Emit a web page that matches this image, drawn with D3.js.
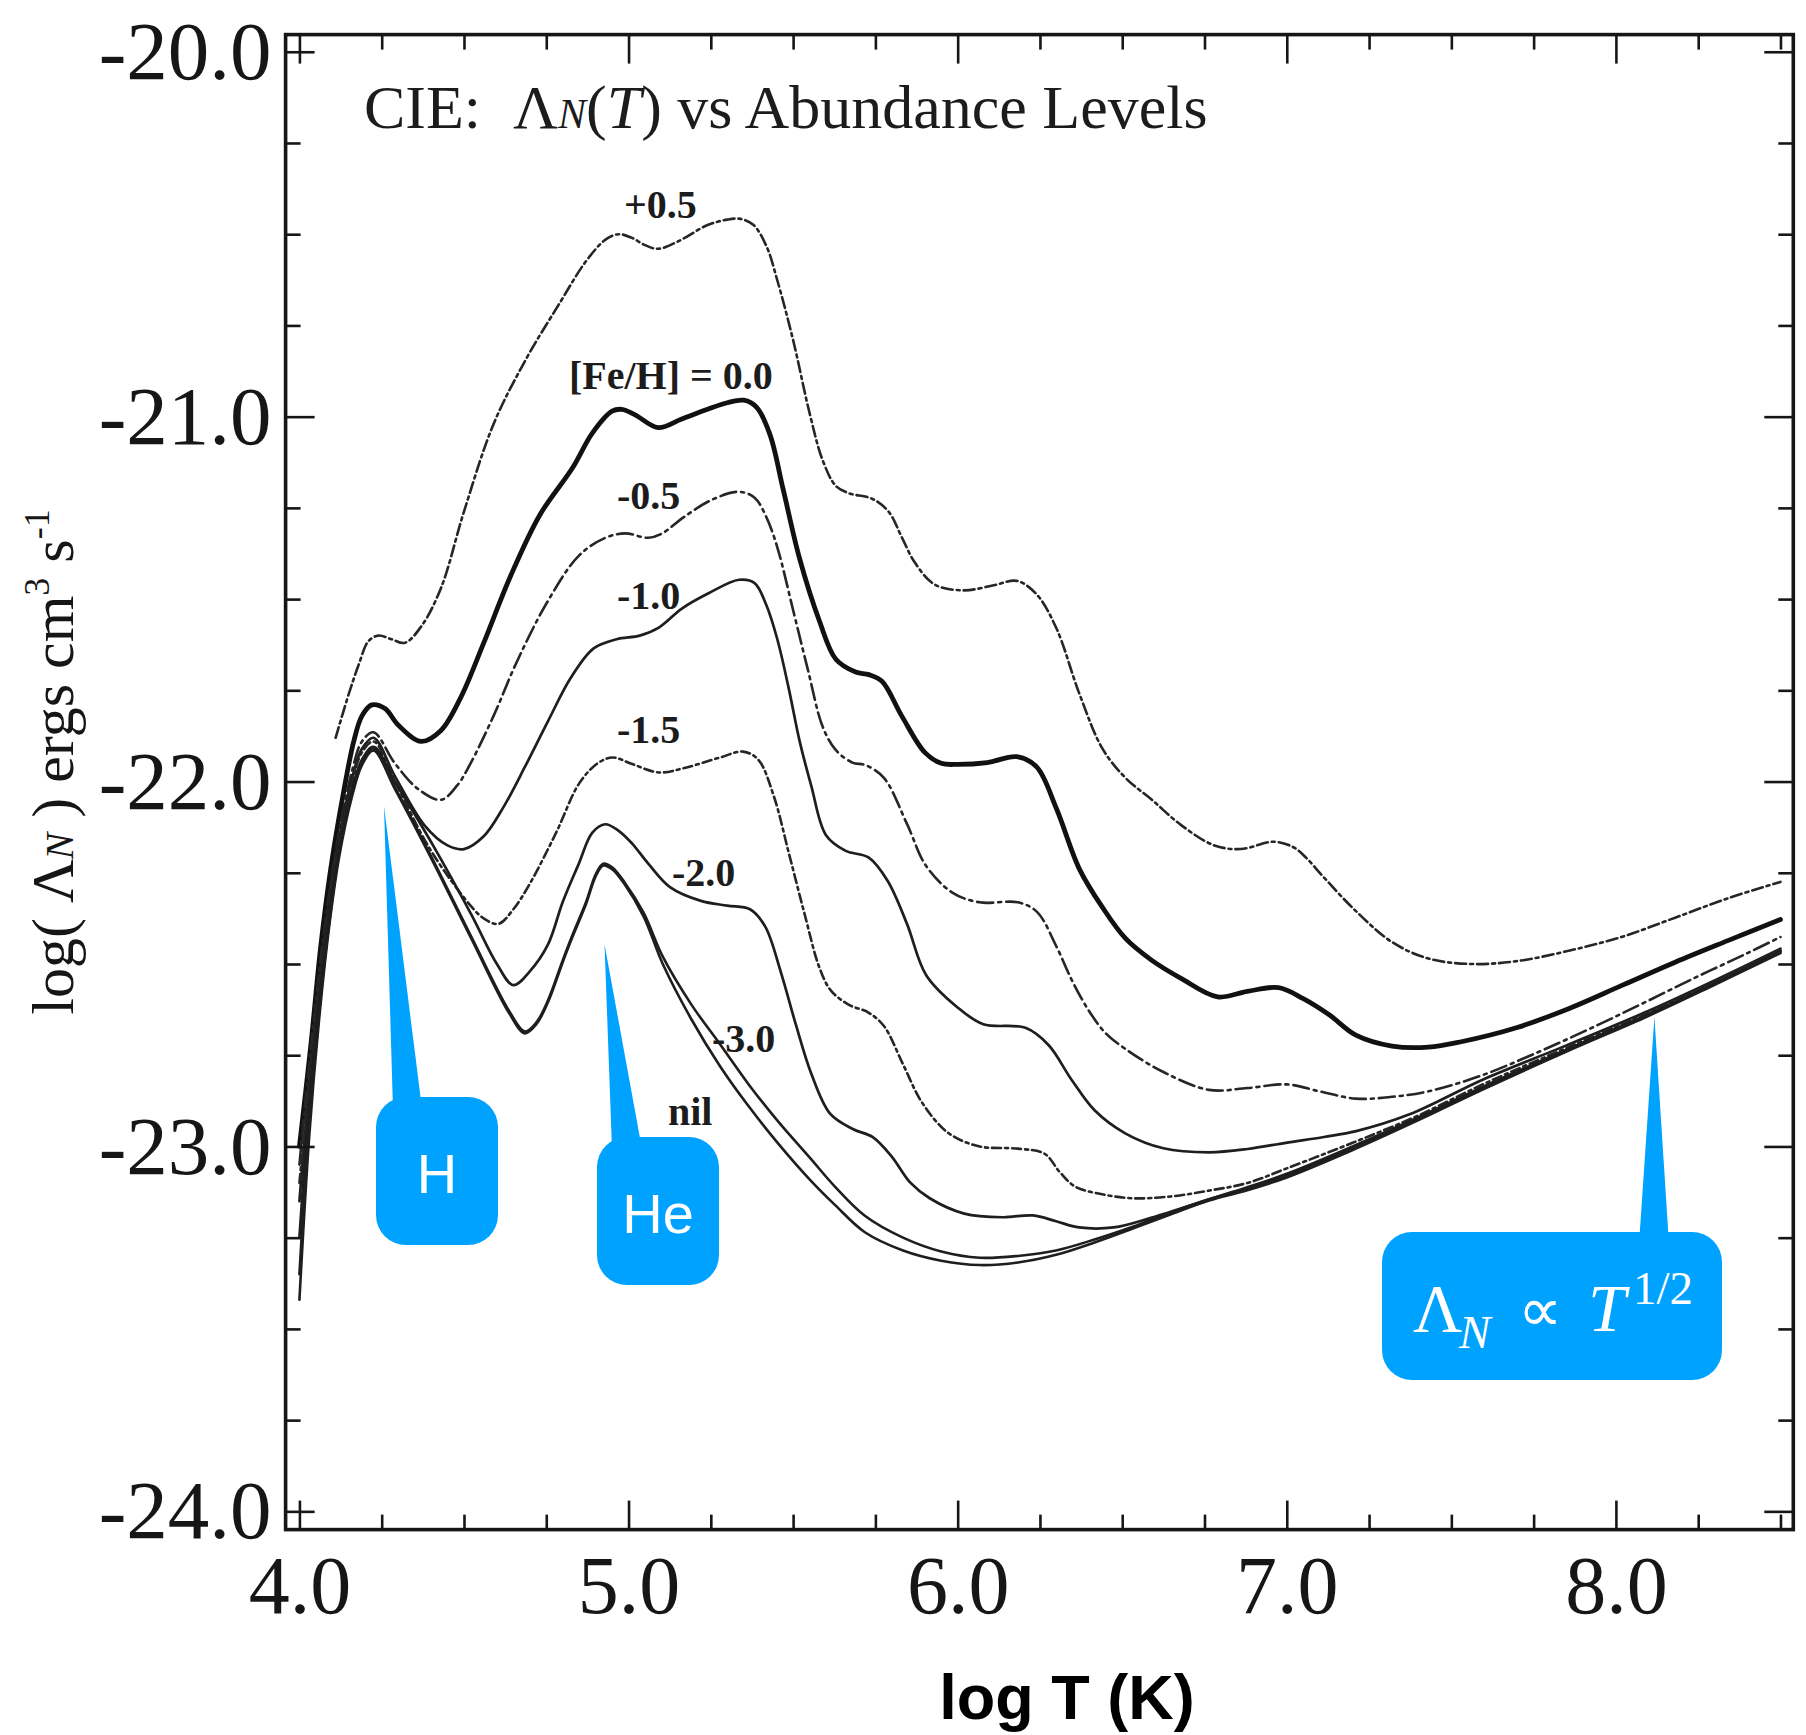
<!DOCTYPE html>
<html>
<head>
<meta charset="utf-8">
<script src="https://cdn.jsdelivr.net/npm/d3@7"></script>
<style>
  html, body { margin: 0; padding: 0; background: #ffffff; }
  svg { display: block; }
</style>
</head>
<body>
<svg id="chart" width="1806" height="1735"></svg>
<script>
// ---------------------------------------------------------------
// Cooling function log(Lambda_N) versus log T for several [Fe/H]
// ---------------------------------------------------------------

// axis ticks and labels
const xTickValues = [4, 5, 6, 7, 8];
const xTickLabels = ["4.0", "5.0", "6.0", "7.0", "8.0"];
const yTickValues = [-20, -21, -22, -23, -24];
const yTickLabels = ["-20.0", "-21.0", "-22.0", "-23.0", "-24.0"];

// series names as printed beside the curves
const seriesNames = ["+0.5", "[Fe/H] = 0.0", "-0.5", "-1.0", "-1.5", "-2.0", "-3.0", "nil"];

// [log T, log Lambda_N] for each abundance level
const feH_p05 = [[4.11,-21.88],[4.15,-21.76],[4.18,-21.68],[4.21,-21.615],[4.24,-21.60],[4.28,-21.61],[4.32,-21.62],[4.37,-21.575],[4.43,-21.47],[4.50,-21.26],[4.59,-21.02],[4.69,-20.84],[4.79,-20.69],[4.87,-20.575],[4.93,-20.515],[4.97,-20.50],[5.01,-20.51],[5.05,-20.53],[5.09,-20.54],[5.15,-20.52],[5.24,-20.475],[5.30,-20.46],[5.34,-20.458],[5.38,-20.475],[5.42,-20.535],[5.45,-20.62],[5.50,-20.79],[5.55,-20.99],[5.59,-21.12],[5.63,-21.19],[5.67,-21.21],[5.74,-21.225],[5.79,-21.26],[5.83,-21.33],[5.87,-21.40],[5.93,-21.46],[6.02,-21.476],[6.11,-21.462],[6.18,-21.45],[6.24,-21.487],[6.30,-21.58],[6.37,-21.76],[6.44,-21.91],[6.51,-21.99],[6.59,-22.05],[6.68,-22.12],[6.78,-22.175],[6.86,-22.185],[6.96,-22.165],[7.02,-22.18],[7.06,-22.21],[7.11,-22.26],[7.21,-22.355],[7.32,-22.44],[7.43,-22.485],[7.56,-22.50],[7.70,-22.492],[7.86,-22.463],[8.02,-22.425],[8.18,-22.373],[8.34,-22.32],[8.50,-22.275]];

const feH_00 = [[4.00,-23.00],[4.035,-22.72],[4.065,-22.45],[4.095,-22.24],[4.13,-22.05],[4.165,-21.89],[4.19,-21.82],[4.22,-21.79],[4.26,-21.80],[4.30,-21.845],[4.37,-21.89],[4.43,-21.86],[4.49,-21.77],[4.56,-21.62],[4.64,-21.44],[4.73,-21.27],[4.83,-21.14],[4.89,-21.045],[4.95,-20.985],[4.98,-20.98],[5.02,-20.995],[5.09,-21.03],[5.16,-21.007],[5.24,-20.98],[5.30,-20.962],[5.35,-20.955],[5.39,-20.975],[5.43,-21.05],[5.47,-21.20],[5.52,-21.39],[5.58,-21.56],[5.63,-21.665],[5.69,-21.70],[5.73,-21.707],[5.77,-21.725],[5.83,-21.82],[5.90,-21.92],[5.95,-21.95],[6.00,-21.953],[6.09,-21.948],[6.18,-21.932],[6.24,-21.96],[6.30,-22.074],[6.37,-22.24],[6.44,-22.345],[6.51,-22.43],[6.59,-22.49],[6.68,-22.54],[6.79,-22.59],[6.88,-22.575],[6.975,-22.565],[7.05,-22.595],[7.13,-22.64],[7.21,-22.695],[7.32,-22.725],[7.43,-22.728],[7.53,-22.713],[7.70,-22.674],[7.86,-22.621],[8.02,-22.558],[8.18,-22.495],[8.34,-22.436],[8.50,-22.378]];

const feH_m05 = [[4.00,-23.05],[4.03,-22.77],[4.06,-22.52],[4.09,-22.31],[4.12,-22.14],[4.16,-21.97],[4.19,-21.89],[4.225,-21.865],[4.29,-21.95],[4.36,-22.02],[4.43,-22.05],[4.48,-22.01],[4.52,-21.95],[4.59,-21.82],[4.66,-21.673],[4.755,-21.505],[4.85,-21.38],[4.93,-21.332],[4.99,-21.32],[5.06,-21.332],[5.10,-21.321],[5.17,-21.274],[5.255,-21.227],[5.336,-21.206],[5.383,-21.222],[5.418,-21.274],[5.452,-21.358],[5.50,-21.53],[5.545,-21.694],[5.59,-21.85],[5.63,-21.914],[5.68,-21.948],[5.72,-21.955],[5.776,-21.99],[5.846,-22.116],[5.904,-22.231],[5.985,-22.305],[6.067,-22.331],[6.183,-22.331],[6.241,-22.357],[6.30,-22.452],[6.35,-22.55],[6.40,-22.63],[6.45,-22.69],[6.51,-22.733],[6.625,-22.796],[6.764,-22.845],[6.88,-22.84],[7.00,-22.83],[7.10,-22.849],[7.21,-22.869],[7.32,-22.864],[7.43,-22.849],[7.59,-22.806],[7.75,-22.747],[7.91,-22.682],[8.07,-22.613],[8.235,-22.54],[8.40,-22.47],[8.50,-22.426]];

const feH_m10 = [[4.00,-23.15],[4.03,-22.83],[4.06,-22.56],[4.09,-22.34],[4.12,-22.16],[4.16,-21.99],[4.19,-21.91],[4.225,-21.88],[4.29,-21.985],[4.38,-22.12],[4.45,-22.175],[4.50,-22.185],[4.56,-22.15],[4.62,-22.07],[4.685,-21.96],[4.755,-21.835],[4.825,-21.715],[4.894,-21.635],[4.964,-21.61],[5.034,-21.60],[5.092,-21.578],[5.162,-21.526],[5.243,-21.484],[5.336,-21.447],[5.383,-21.456],[5.418,-21.515],[5.452,-21.61],[5.487,-21.746],[5.52,-21.89],[5.555,-22.011],[5.60,-22.147],[5.66,-22.19],[5.729,-22.208],[5.787,-22.272],[5.846,-22.39],[5.904,-22.53],[5.997,-22.617],[6.078,-22.665],[6.206,-22.675],[6.276,-22.722],[6.346,-22.817],[6.416,-22.901],[6.509,-22.964],[6.625,-23.005],[6.764,-23.016],[6.881,-23.007],[6.997,-22.99],[7.113,-22.974],[7.211,-22.958],[7.373,-22.912],[7.60,-22.815],[7.85,-22.723],[8.10,-22.628],[8.30,-22.545],[8.50,-22.458]];

const feH_m15 = [[4.00,-23.10],[4.03,-22.82],[4.06,-22.56],[4.09,-22.35],[4.12,-22.17],[4.16,-22.00],[4.19,-21.92],[4.225,-21.89],[4.29,-22.00],[4.40,-22.19],[4.52,-22.34],[4.56,-22.375],[4.605,-22.39],[4.65,-22.35],[4.70,-22.28],[4.78,-22.14],[4.85,-22.005],[4.906,-21.95],[4.952,-21.934],[5.011,-21.952],[5.092,-21.975],[5.173,-21.962],[5.278,-21.934],[5.348,-21.918],[5.394,-21.94],[5.441,-22.039],[5.487,-22.196],[5.534,-22.36],[5.58,-22.51],[5.615,-22.573],[5.67,-22.612],[5.729,-22.633],[5.776,-22.67],[5.834,-22.775],[5.892,-22.88],[5.973,-22.964],[6.067,-23.00],[6.183,-23.006],[6.264,-23.02],[6.31,-23.07],[6.357,-23.11],[6.439,-23.131],[6.532,-23.142],[6.648,-23.137],[6.764,-23.121],[6.881,-23.10],[7.00,-23.06],[7.20,-22.99],[7.40,-22.915],[7.60,-22.828],[7.85,-22.73],[8.10,-22.633],[8.30,-22.55],[8.50,-22.462]];

const feH_m20 = [[4.00,-23.25],[4.03,-22.88],[4.06,-22.60],[4.09,-22.37],[4.12,-22.19],[4.16,-22.02],[4.19,-21.94],[4.225,-21.905],[4.29,-22.00],[4.406,-22.175],[4.522,-22.364],[4.60,-22.50],[4.65,-22.558],[4.70,-22.52],[4.755,-22.447],[4.80,-22.33],[4.848,-22.227],[4.89,-22.14],[4.929,-22.117],[4.97,-22.135],[5.011,-22.17],[5.06,-22.225],[5.127,-22.29],[5.22,-22.327],[5.30,-22.34],[5.369,-22.35],[5.415,-22.397],[5.462,-22.52],[5.508,-22.665],[5.555,-22.80],[5.613,-22.911],[5.683,-22.953],[5.741,-22.974],[5.799,-23.027],[5.857,-23.10],[5.915,-23.142],[6.02,-23.184],[6.136,-23.194],[6.229,-23.189],[6.299,-23.205],[6.369,-23.222],[6.474,-23.222],[6.59,-23.195],[6.764,-23.145],[6.88,-23.112],[7.00,-23.075],[7.20,-23.00],[7.40,-22.92],[7.60,-22.835],[7.85,-22.735],[8.10,-22.637],[8.30,-22.553],[8.50,-22.465]];

const feH_m30 = [[4.00,-23.35],[4.03,-22.93],[4.06,-22.63],[4.09,-22.39],[4.12,-22.20],[4.16,-22.03],[4.19,-21.95],[4.225,-21.91],[4.29,-22.015],[4.406,-22.215],[4.522,-22.425],[4.638,-22.63],[4.685,-22.685],[4.72,-22.66],[4.755,-22.60],[4.80,-22.49],[4.83,-22.42],[4.871,-22.33],[4.90,-22.255],[4.923,-22.225],[4.95,-22.235],[4.987,-22.275],[5.046,-22.36],[5.104,-22.48],[5.19,-22.61],[5.278,-22.72],[5.365,-22.83],[5.453,-22.93],[5.55,-23.03],[5.627,-23.11],[5.718,-23.19],[5.834,-23.25],[5.95,-23.288],[6.067,-23.305],[6.183,-23.30],[6.299,-23.285],[6.416,-23.255],[6.532,-23.22],[6.65,-23.18],[6.764,-23.145],[6.88,-23.115],[7.00,-23.08],[7.20,-23.005],[7.40,-22.925],[7.60,-22.84],[7.85,-22.738],[8.10,-22.64],[8.30,-22.555],[8.50,-22.467]];

const feH_nil = [[4.00,-23.42],[4.03,-22.97],[4.06,-22.65],[4.09,-22.40],[4.12,-22.21],[4.16,-22.04],[4.19,-21.955],[4.225,-21.915],[4.29,-22.02],[4.406,-22.22],[4.522,-22.43],[4.638,-22.636],[4.685,-22.69],[4.72,-22.665],[4.755,-22.605],[4.80,-22.495],[4.83,-22.425],[4.871,-22.335],[4.90,-22.26],[4.923,-22.23],[4.95,-22.24],[4.987,-22.28],[5.046,-22.37],[5.104,-22.50],[5.19,-22.65],[5.278,-22.78],[5.365,-22.89],[5.453,-22.99],[5.55,-23.09],[5.627,-23.16],[5.718,-23.235],[5.834,-23.285],[5.95,-23.313],[6.067,-23.325],[6.183,-23.318],[6.299,-23.297],[6.416,-23.263],[6.532,-23.225],[6.65,-23.185],[6.764,-23.148],[6.88,-23.12],[7.00,-23.085],[7.20,-23.01],[7.40,-22.928],[7.60,-22.842],[7.85,-22.74],[8.10,-22.642],[8.30,-22.557],[8.50,-22.47]];

const seriesValues = [feH_p05, feH_00, feH_m05, feH_m10, feH_m15, feH_m20, feH_m30, feH_nil];

// ---------------------------------------------------------------
// drawing
// ---------------------------------------------------------------
const SERIF = "'Liberation Serif', 'Times New Roman', Times, serif";
const SANS = "'Liberation Sans', Arial, Helvetica, sans-serif";
const INK = "#161616";
const CALLOUT = "#00a2ff";

const svg = d3.select("#chart");
svg.append("rect").attr("width", 1806).attr("height", 1735).attr("fill", "#ffffff");

const x = d3.scaleLinear().domain([3.958, 8.539]).range([285.6, 1793.3]);
const y = d3.scaleLinear().domain([-24.05, -19.953]).range([1529.6, 34.6]);
const [plotL, plotR] = x.range();
const [plotB, plotT] = y.range();

// line styling per curve
const lineStyle = [
  { width: 2.6, dash: "11,4,3,4",   color: "#262626" },
  { width: 4.8, dash: null,         color: "#111111" },
  { width: 2.6, dash: "16,5,3,5",   color: "#262626" },
  { width: 2.7, dash: null,         color: "#1e1e1e" },
  { width: 2.6, dash: "9,4,3,4",    color: "#262626" },
  { width: 2.7, dash: null,         color: "#1e1e1e" },
  { width: 2.6, dash: null,         color: "#1e1e1e" },
  { width: 2.6, dash: null,         color: "#1e1e1e" }
];

// clip for the curves
svg.append("defs").append("clipPath").attr("id", "plotClip")
  .append("rect").attr("x", plotL).attr("y", plotT)
  .attr("width", plotR - plotL).attr("height", plotB - plotT);

const line = d3.line()
  .x(d => x(d[0]))
  .y(d => y(d[1]))
  .curve(d3.curveCatmullRom.alpha(0.5));

const curves = svg.append("g").attr("clip-path", "url(#plotClip)");
seriesValues.forEach((vals, i) => {
  const st = lineStyle[i];
  curves.append("path")
    .datum(vals)
    .attr("d", line)
    .attr("fill", "none")
    .attr("stroke", st.color)
    .attr("stroke-width", st.width)
    .attr("stroke-linejoin", "round")
    .attr("stroke-linecap", "round")
    .attr("stroke-dasharray", st.dash);
});

// ---------- axes: ticks on all four sides, pointing inward ----------
const MAJOR = 29, MINOR = 15;
const isWhole = v => Math.abs(v - Math.round(v)) < 1e-6;
const xMinor = d3.range(4, 8.5001, 0.25).filter(v => !isWhole(v));
const yMinor = d3.range(-24, -19.999, 0.25).filter(v => !isWhole(v));

function tidy(g) {
  g.select(".domain").remove();
  g.selectAll(".tick line").attr("stroke", INK).attr("stroke-width", 2.6);
}

// bottom
svg.append("g").attr("transform", `translate(0,${plotB})`)
  .call(d3.axisBottom(x).tickValues(xTickValues).tickFormat((d, i) => xTickLabels[i])
    .tickSizeInner(-MAJOR).tickSizeOuter(0).tickPadding(25))
  .call(tidy)
  .call(g => g.selectAll(".tick text")
    .attr("font-family", SERIF).attr("font-size", 82).attr("fill", INK));
svg.append("g").attr("transform", `translate(0,${plotB})`)
  .call(d3.axisBottom(x).tickValues(xMinor).tickFormat("").tickSizeInner(-MINOR).tickSizeOuter(0))
  .call(tidy);

// top
svg.append("g").attr("transform", `translate(0,${plotT})`)
  .call(d3.axisTop(x).tickValues(xTickValues).tickFormat("").tickSizeInner(-MAJOR).tickSizeOuter(0))
  .call(tidy);
svg.append("g").attr("transform", `translate(0,${plotT})`)
  .call(d3.axisTop(x).tickValues(xMinor).tickFormat("").tickSizeInner(-MINOR).tickSizeOuter(0))
  .call(tidy);

// left
svg.append("g").attr("transform", `translate(${plotL},0)`)
  .call(d3.axisLeft(y).tickValues(yTickValues).tickFormat((d, i) => yTickLabels[i])
    .tickSizeInner(-MAJOR).tickSizeOuter(0).tickPadding(14))
  .call(tidy)
  .call(g => g.selectAll(".tick text")
    .attr("font-family", SERIF).attr("font-size", 83).attr("fill", INK));
svg.append("g").attr("transform", `translate(${plotL},0)`)
  .call(d3.axisLeft(y).tickValues(yMinor).tickFormat("").tickSizeInner(-MINOR).tickSizeOuter(0))
  .call(tidy);

// right
svg.append("g").attr("transform", `translate(${plotR},0)`)
  .call(d3.axisRight(y).tickValues(yTickValues).tickFormat("").tickSizeInner(-MAJOR).tickSizeOuter(0))
  .call(tidy);
svg.append("g").attr("transform", `translate(${plotR},0)`)
  .call(d3.axisRight(y).tickValues(yMinor).tickFormat("").tickSizeInner(-MINOR).tickSizeOuter(0))
  .call(tidy);

// frame
svg.append("rect")
  .attr("x", plotL).attr("y", plotT)
  .attr("width", plotR - plotL).attr("height", plotB - plotT)
  .attr("fill", "none").attr("stroke", INK).attr("stroke-width", 3.6);

// ---------- curve labels ----------
const labelPos = [
  [624, 218], [569, 389], [617, 509], [617, 609],
  [617, 743], [672, 886], [712, 1052], [668, 1125]
];
svg.append("g").selectAll("text").data(seriesNames).join("text")
  .attr("x", (d, i) => labelPos[i][0])
  .attr("y", (d, i) => labelPos[i][1])
  .attr("font-family", SERIF).attr("font-weight", "bold")
  .attr("font-size", 40).attr("fill", "#1c1c1c")
  .text(d => d);

// ---------- panel title ----------
const title = svg.append("text")
  .attr("x", 364).attr("y", 128)
  .attr("font-family", SERIF).attr("font-size", 62).attr("fill", "#1c1c1c");
title.append("tspan").text("CIE:");
title.append("tspan").attr("x", 513).text("Λ");
title.append("tspan").attr("font-size", 42).attr("font-style", "italic").text("N");
title.append("tspan").text("(");
title.append("tspan").attr("font-style", "italic").text("T");
title.append("tspan").text(") vs Abundance Levels");

// ---------- axis titles ----------
const yTitle = svg.append("text")
  .attr("transform", "translate(73,762) rotate(-90)")
  .attr("text-anchor", "middle")
  .attr("font-family", SERIF).attr("font-size", 60).attr("fill", INK);
yTitle.append("tspan").text("log( Λ");
yTitle.append("tspan").attr("font-size", 40).attr("font-style", "italic").text("N");
yTitle.append("tspan").text(" ) ergs cm");
yTitle.append("tspan").attr("font-size", 36).attr("dy", -24).text("3");
yTitle.append("tspan").attr("dy", 24).text(" s");
yTitle.append("tspan").attr("font-size", 36).attr("dy", -24).text("-1");

svg.append("text")
  .attr("x", 1067).attr("y", 1719)
  .attr("text-anchor", "middle")
  .attr("font-family", SANS).attr("font-weight", "bold")
  .attr("font-size", 63).attr("fill", "#000")
  .text("log T (K)");

// ---------- callouts ----------
// tip: [logT, logLambda] that the wedge points to; box in pixels
const callouts = [
  { tip: [4.257, -22.067], box: [376, 1097, 122, 148], base: [393, 422], text: "H" },
  { tip: [4.927, -22.446], box: [597, 1137, 122, 148], base: [612, 642], text: "He" },
  { tip: [8.117, -22.645], box: [1382, 1232, 340, 148], base: [1639, 1669], text: null }
];
const cg = svg.append("g");
callouts.forEach(c => {
  const [bx, by, bw, bh] = c.box;
  cg.append("path")
    .attr("d", `M${c.base[0]},${by + 12} L${x(c.tip[0])},${y(c.tip[1])} L${c.base[1]},${by + 12} Z`)
    .attr("fill", CALLOUT);
  cg.append("rect")
    .attr("x", bx).attr("y", by).attr("width", bw).attr("height", bh)
    .attr("rx", 30).attr("ry", 30).attr("fill", CALLOUT);
  if (c.text) {
    cg.append("text")
      .attr("x", bx + bw / 2).attr("y", by + 96)
      .attr("text-anchor", "middle")
      .attr("font-family", SANS).attr("font-size", 56).attr("fill", "#ffffff")
      .text(c.text);
  }
});

// Lambda_N proportional to T^(1/2)
const law = cg.append("text").attr("font-family", SERIF).attr("fill", "#ffffff");
law.append("tspan").attr("x", 1413).attr("y", 1331).attr("font-size", 68).text("Λ");
law.append("tspan").attr("x", 1459).attr("y", 1348).attr("font-size", 47).attr("font-style", "italic").text("N");
law.append("tspan").attr("x", 1518).attr("y", 1331).attr("font-size", 62).text("∝");
law.append("tspan").attr("x", 1588).attr("y", 1331).attr("font-size", 68).attr("font-style", "italic").text("T");
law.append("tspan").attr("x", 1633).attr("y", 1304).attr("font-size", 47).text("1/2");
</script>
</body>
</html>
